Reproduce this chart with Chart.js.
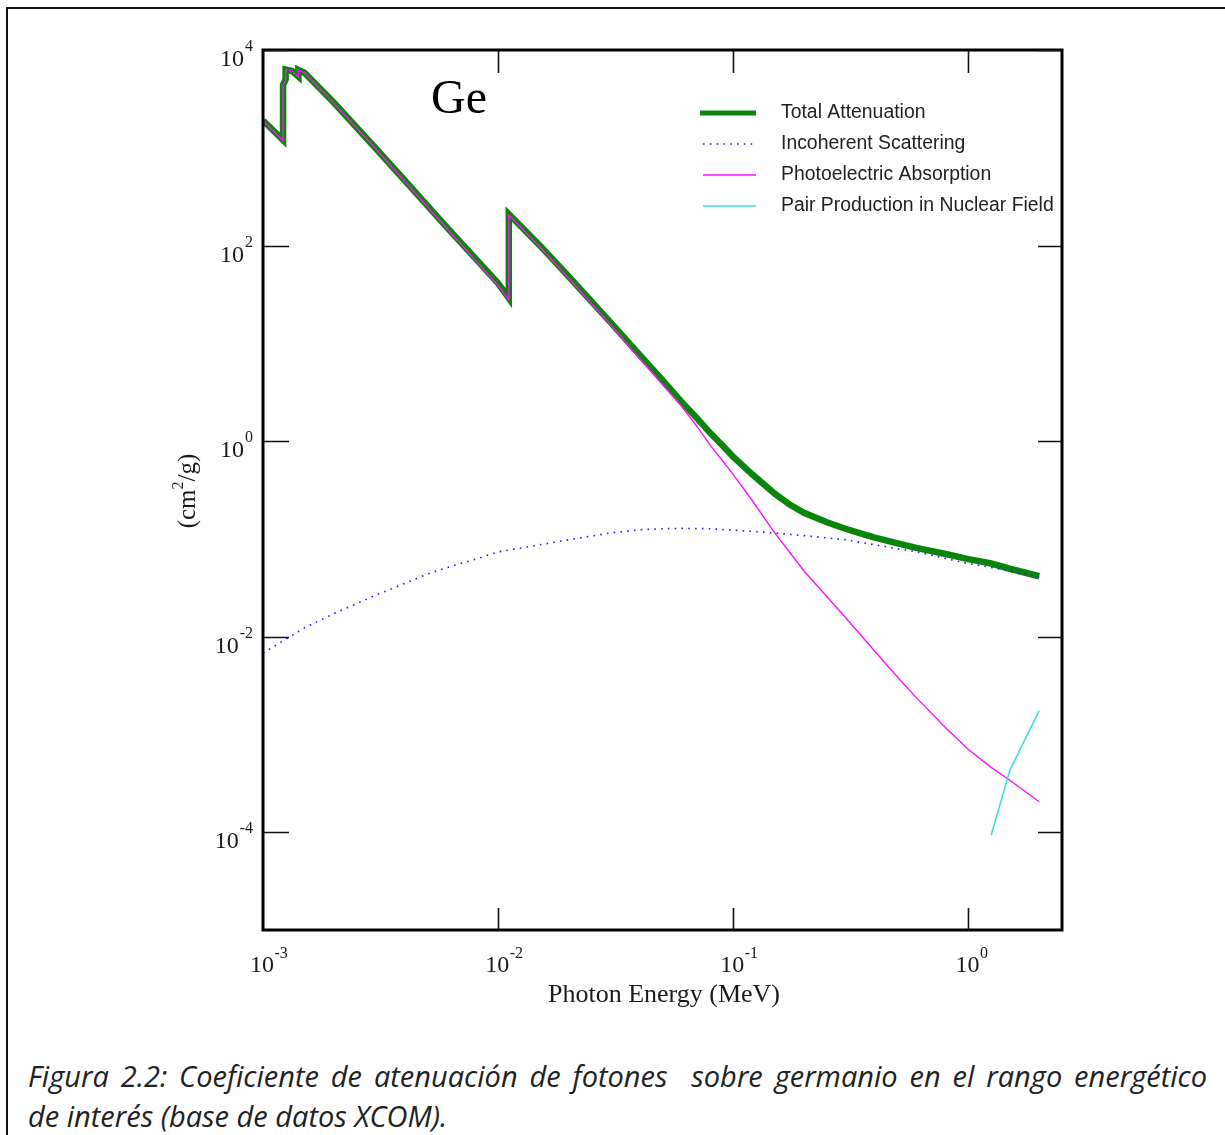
<!DOCTYPE html>
<html>
<head>
<meta charset="utf-8">
<script src="https://cdn.jsdelivr.net/npm/chart.js@4.4.1/dist/chart.umd.min.js"></script>
<style>
  html, body { margin: 0; padding: 0; background: #fff; }
  body { width: 1225px; height: 1135px; position: relative; overflow: hidden; }
  #frame { position: absolute; left: 6px; top: 7px; width: 1230px; height: 1140px;
           border-left: 2px solid #111; border-top: 2px solid #111; box-sizing: border-box; }
  #wrap { position: absolute; left: 0; top: 0; width: 1225px; height: 1040px; }
  .cap { position: absolute; left: 28px; width: 1179px; font-family: "Open Sans", "DejaVu Sans", sans-serif;
         font-style: italic; font-size: 29px; line-height: 40px; color: #222; white-space: nowrap; }
  #cap1 { top: 1056px; text-align: justify; text-align-last: justify; }
  #cap2 { top: 1096px; }
</style>
</head>
<body>
<div id="frame"></div>
<div id="wrap"><canvas id="c" width="1225" height="1040"></canvas></div>
<div class="cap" id="cap1">Figura 2.2: Coeficiente de atenuación de fotones&nbsp; sobre germanio en el rango energético</div>
<div class="cap" id="cap2">de interés (base de datos XCOM).</div>
<script>
// ---- Data (Photon energy in MeV, coefficient in cm^2/g) ----
const totalE  = [0.001, 0.001217, 0.001217, 0.001248, 0.001248, 0.00133, 0.001414, 0.001414, 0.0015, 0.002, 0.003, 0.004, 0.005, 0.006, 0.008, 0.01, 0.0111, 0.0111, 0.015, 0.02, 0.03, 0.04, 0.05, 0.06, 0.07, 0.08, 0.09, 0.1, 0.12, 0.15, 0.175, 0.2, 0.25, 0.3, 0.35, 0.4, 0.5, 0.6, 0.8, 1.0, 1.25, 1.5, 2.0];
const totalMu = [1900, 1200, 4400, 4980, 6300, 6100, 5350, 6250, 5850, 2900, 1000, 465, 256, 157, 74, 41, 29, 210, 101, 48, 16.5, 7.6, 4.2, 2.55, 1.72, 1.2, 0.9, 0.69, 0.46, 0.29, 0.222, 0.185, 0.148, 0.127, 0.113, 0.103, 0.090, 0.081, 0.070, 0.062, 0.056, 0.0495, 0.0415];

const incohE  = [0.001, 0.0015, 0.002, 0.003, 0.004, 0.005, 0.006, 0.008, 0.01, 0.015, 0.02, 0.03, 0.04, 0.05, 0.06, 0.08, 0.1, 0.15, 0.2, 0.3, 0.4, 0.5, 0.6, 0.8, 1.0, 1.25, 1.5, 2.0];
const incohMu = [0.0068, 0.0123, 0.0172, 0.0264, 0.035, 0.0437, 0.0505, 0.062, 0.0736, 0.087, 0.098, 0.115, 0.124, 0.127, 0.128, 0.127, 0.123, 0.115, 0.108, 0.098, 0.087, 0.079, 0.074, 0.063, 0.056, 0.051, 0.047, 0.041];

const photoE  = [0.001, 0.001217, 0.001217, 0.001248, 0.001248, 0.00133, 0.001414, 0.001414, 0.0015, 0.002, 0.003, 0.004, 0.005, 0.006, 0.008, 0.01, 0.0111, 0.0111, 0.015, 0.02, 0.03, 0.04, 0.05, 0.06, 0.07, 0.08, 0.09, 0.1, 0.12, 0.15, 0.2, 0.3, 0.4, 0.5, 0.6, 0.8, 1.0, 1.25, 1.5, 2.0];
const photoMu = [1890, 1185, 4380, 4970, 6280, 6090, 5330, 6210, 5830, 2880, 990, 458, 251, 153, 71, 39, 28, 205, 98, 46, 15.6, 7.0, 3.8, 2.3, 1.42, 0.9, 0.63, 0.455, 0.25, 0.115, 0.047, 0.0157, 0.0071, 0.00384, 0.00238, 0.00117, 0.0007, 0.00046, 0.00034, 0.000205];

const pairE   = [1.25, 1.5, 2.0];
const pairMu  = [0.000093, 0.00043, 0.00175];

const seriesNames = ["Total Attenuation", "Incoherent Scattering", "Photoelectric Absorption", "Pair Production in Nuclear Field"];
const xTickValues = [0.001, 0.01, 0.1, 1];
const xTickExps   = ["-3", "-2", "-1", "0"];
const yTickValues = [1e4, 1e2, 1, 1e-2, 1e-4];
const yTickExps   = ["4", "2", "0", "-2", "-4"];
const xTitle = "Photon Energy (MeV)";
const elementLabel = "Ge";

const pts = (xs, ys) => xs.map((x, i) => ({ x: x, y: ys[i] }));

const SERIF = '"Liberation Serif", "Times New Roman", serif';
const SANS = '"Liberation Sans", Arial, sans-serif';

const styles = [
  { color: '#0a840a', width: 6.5, dash: [] },
  { color: '#2020ff', width: 1.6, dash: [1.6, 5.2] },
  { color: '#ff10ff', width: 1.4, dash: [] },
  { color: '#40e0d0', width: 1.6, dash: [] }
];

const decor = {
  id: 'decor',
  afterDatasetsDraw(chart) {
    const ctx = chart.ctx;
    const a = chart.chartArea;
    const xs = chart.scales.x, ys = chart.scales.y;
    ctx.save();
    // plot frame
    ctx.strokeStyle = '#000';
    ctx.lineWidth = 3;
    ctx.strokeRect(a.left, a.top, a.right - a.left, a.bottom - a.top);
    // inner ticks
    ctx.lineWidth = 1.6;
    ctx.strokeStyle = '#111';
    ctx.beginPath();
    yTickValues.forEach(v => {
      const y = Math.round(ys.getPixelForValue(v)) + 0.5;
      ctx.moveTo(a.left, y); ctx.lineTo(a.left + 26, y);
      ctx.moveTo(a.right, y); ctx.lineTo(a.right - 24, y);
    });
    xTickValues.slice(1).forEach(v => {
      const x = Math.round(xs.getPixelForValue(v)) + 0.5;
      ctx.moveTo(x, a.top); ctx.lineTo(x, a.top + 23);
      ctx.moveTo(x, a.bottom); ctx.lineTo(x, a.bottom - 22);
    });
    ctx.stroke();

    // tick labels
    ctx.fillStyle = '#1a1a1a';
    ctx.textBaseline = 'alphabetic';
    const big = '24px ' + SERIF, small = '16px ' + SERIF;
    yTickValues.forEach((v, i) => {
      const y = ys.getPixelForValue(v);
      ctx.font = small; ctx.textAlign = 'right';
      ctx.fillText(yTickExps[i], 253, y + 1);
      const ew = ctx.measureText(yTickExps[i]).width;
      ctx.font = big;
      ctx.fillText('10', 253 - ew - 1, y + 16);
    });
    xTickValues.forEach((v, i) => {
      const x = xs.getPixelForValue(v);
      ctx.font = big; ctx.textAlign = 'center';
      ctx.fillText('10', x - 1, a.bottom + 42);
      const w = ctx.measureText('10').width;
      ctx.font = small; ctx.textAlign = 'left';
      ctx.fillText(xTickExps[i], x - 1 + w / 2 + 0.5, a.bottom + 28);
    });

    // axis titles
    ctx.font = '26px ' + SERIF;
    ctx.textAlign = 'center';
    ctx.fillText(xTitle, 664, a.bottom + 72);
    ctx.save();
    ctx.translate(195, 491);
    ctx.rotate(-Math.PI / 2);
    const p1 = '(cm', p2 = '2', p3 = '/g)';
    ctx.font = '25px ' + SERIF; const w1 = ctx.measureText(p1).width, w3 = ctx.measureText(p3).width;
    ctx.font = '16px ' + SERIF; const w2 = ctx.measureText(p2).width;
    let sx = -(w1 + w2 + w3) / 2;
    ctx.textAlign = 'left';
    ctx.font = '25px ' + SERIF; ctx.fillText(p1, sx, 0); sx += w1;
    ctx.font = '16px ' + SERIF; ctx.fillText(p2, sx, -12); sx += w2;
    ctx.font = '25px ' + SERIF; ctx.fillText(p3, sx, 0);
    ctx.restore();

    // element label
    ctx.font = '48px ' + SERIF;
    ctx.textAlign = 'left';
    ctx.fillStyle = '#000';
    ctx.fillText(elementLabel, 431, 113);

    // legend
    const rows = [113, 144, 175, 206];
    seriesNames.forEach((name, i) => {
      const s = styles[i];
      const y = rows[i];
      ctx.beginPath();
      ctx.strokeStyle = s.color;
      ctx.lineWidth = i === 0 ? 5 : s.width;
      ctx.setLineDash(s.dash);
      ctx.moveTo(i === 0 ? 700 : 703, y);
      ctx.lineTo(756, y);
      ctx.stroke();
      ctx.setLineDash([]);
      ctx.font = '19.4px ' + SANS;
      ctx.fillStyle = '#222';
      ctx.textBaseline = 'middle';
      ctx.fillText(name, 781, y);
    });
    ctx.restore();
  }
};

const dsets = [
  { label: seriesNames[0], data: pts(totalE, totalMu), order: 10 },
  { label: seriesNames[1], data: pts(incohE, incohMu), order: 3 },
  { label: seriesNames[2], data: pts(photoE, photoMu), order: 2 },
  { label: seriesNames[3], data: pts(pairE, pairMu), order: 1 }
].map((d, i) => Object.assign(d, {
  borderColor: styles[i].color,
  borderWidth: styles[i].width,
  borderDash: styles[i].dash,
  pointRadius: 0,
  fill: false,
  tension: 0,
  borderJoinStyle: 'miter',
  borderCapStyle: 'butt'
}));

new Chart(document.getElementById('c'), {
  type: 'line',
  data: { datasets: dsets },
  options: {
    responsive: false,
    animation: false,
    devicePixelRatio: 1,
    layout: { padding: { left: 263, right: 163, top: 50, bottom: 110 } },
    plugins: { legend: { display: false }, tooltip: { enabled: false } },
    scales: {
      x: { type: 'logarithmic', min: 0.001, max: 2.5,
           ticks: { display: false }, grid: { display: false }, border: { display: false },
           afterFit: s => { s.height = 0; } },
      y: { type: 'logarithmic', min: 1e-5, max: 1e4,
           ticks: { display: false }, grid: { display: false }, border: { display: false },
           afterFit: s => { s.width = 0; } }
    }
  },
  plugins: [decor]
});
</script>
</body>
</html>
